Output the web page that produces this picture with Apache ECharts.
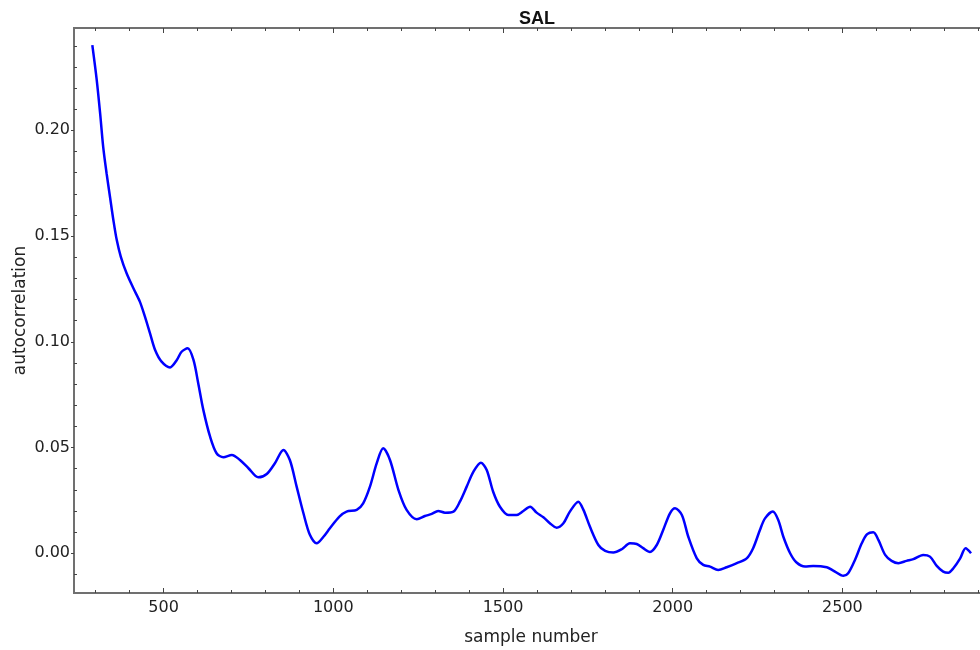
<!DOCTYPE html>
<html>
<head>
<meta charset="utf-8">
<script src="https://cdn.jsdelivr.net/npm/echarts@6/dist/echarts.min.js"></script>
<style>html,body{margin:0;padding:0;background:#fff;}#chart{width:980px;height:650px;}</style>
</head>
<body>
<div id="chart"></div>
<script>
const chartTitle = "SAL";
const xName = "sample number";
const yName = "autocorrelation";
const sampleNumbers = [290,303,313,322,332,342,352,362,374,391,411,430,445,460,475,494,519,539,553,571,588,602,617,637,656,676,701,725,750,779,804,828,853,872,892,912,931,951,971,990,1018,1039,1069,1088,1108,1128,1147,1167,1192,1216,1246,1270,1290,1309,1329,1354,1373,1393,1413,1435,1452,1471,1491,1516,1540,1560,1580,1599,1619,1638,1658,1678,1697,1722,1737,1756,1781,1801,1825,1850,1874,1894,1913,1933,1953,1972,1992,2007,2027,2046,2071,2090,2110,2134,2159,2189,2218,2237,2257,2272,2295,2311,2326,2346,2365,2390,2414,2454,2473,2503,2517,2537,2557,2573,2591,2606,2626,2645,2665,2689,2709,2738,2758,2778,2797,2812,2827,2847,2863,2879];
const autocorr = [0.2403,0.2238,0.2080,0.1922,0.1797,0.1686,0.1576,0.1481,0.1402,0.1324,0.1253,0.1190,0.1119,0.1040,0.0961,0.0906,0.0879,0.0914,0.0953,0.0969,0.0914,0.0804,0.0678,0.0551,0.0473,0.0454,0.0465,0.0441,0.0402,0.0359,0.0375,0.0426,0.0488,0.0441,0.0315,0.0189,0.0087,0.0047,0.0078,0.0118,0.0173,0.0197,0.0205,0.0236,0.0315,0.0426,0.0496,0.0441,0.0299,0.0205,0.0161,0.0176,0.0186,0.0200,0.0192,0.0197,0.0244,0.0315,0.0386,0.0428,0.0394,0.0291,0.0220,0.0181,0.0181,0.0200,0.0220,0.0192,0.0170,0.0142,0.0121,0.0142,0.0197,0.0244,0.0205,0.0126,0.0039,0.0011,0.0003,0.0019,0.0047,0.0044,0.0024,0.0006,0.0039,0.0110,0.0189,0.0213,0.0181,0.0078,-0.0024,-0.0055,-0.0063,-0.0079,-0.0066,-0.0047,-0.0024,0.0024,0.0110,0.0165,0.0197,0.0157,0.0078,0.0000,-0.0044,-0.0063,-0.0060,-0.0066,-0.0082,-0.0107,-0.0095,-0.0032,0.0047,0.0090,0.0099,0.0063,-0.0008,-0.0036,-0.0047,-0.0036,-0.0028,-0.0008,-0.0016,-0.0060,-0.0087,-0.0092,-0.0071,-0.0024,0.0024,0.0000];
const xMajorTicks = [500,1000,1500,2000,2500];
const xMinorTicks = [300,400,600,700,800,900,1100,1200,1300,1400,1600,1700,1800,1900,2100,2200,2300,2400,2600,2700,2800,2900];
const yMajorTicks = [0,0.05,0.10,0.15,0.20];
const yMinorTicks = [-0.01,0.01,0.02,0.03,0.04,0.06,0.07,0.08,0.09,0.11,0.12,0.13,0.14,0.16,0.17,0.18,0.19,0.21,0.22,0.23,0.24];

const X_MIN = 236, X_MAX = 2929, Y_MIN = -0.0188, Y_MAX = 0.2484;
const axisColor = '#707070';
const labelFont = 'DejaVu Sans';

function xAxisDef(pos, ticks, len, showLabel) {
  return {
    type: 'value', position: pos, min: X_MIN, max: X_MAX,
    axisLine: { show: true, onZero: false, lineStyle: { color: axisColor, width: 2 } },
    axisTick: { show: true, inside: true, length: len, customValues: ticks, lineStyle: { color: '#444', width: 1 } },
    axisLabel: showLabel ? { show: true, customValues: ticks, fontFamily: labelFont, fontSize: 16, color: '#222', margin: 7,
      formatter: v => String(Math.round(v)) } : { show: false },
    splitLine: { show: false }
  };
}
function yAxisDef(ticks, len, inside, showLabel) {
  return {
    type: 'value', position: 'left', min: Y_MIN, max: Y_MAX,
    axisLine: { show: true, onZero: false, lineStyle: { color: axisColor, width: 2 } },
    axisTick: { show: true, inside: inside, length: len, customValues: ticks, lineStyle: { color: '#444', width: 1 } },
    axisLabel: showLabel ? { show: true, customValues: ticks, fontFamily: labelFont, fontSize: 16, color: '#222', margin: 4,
      formatter: v => v.toFixed(2) } : { show: false },
    splitLine: { show: false }
  };
}

const xa0 = xAxisDef('bottom', xMajorTicks, 5, true);
xa0.name = xName; xa0.nameLocation = 'middle'; xa0.nameGap = 36; xa0.nameMoveOverlap = false;
xa0.nameTextStyle = { fontFamily: labelFont, fontSize: 17, color: '#222' };
const ya0 = yAxisDef(yMajorTicks, 3, false, true);
ya0.name = yName; ya0.nameLocation = 'middle'; ya0.nameGap = 45; ya0.nameMoveOverlap = false;
ya0.nameTextStyle = { fontFamily: labelFont, fontSize: 17, color: '#222' };

const chart = echarts.init(document.getElementById('chart'), null, { renderer: 'canvas' });
chart.setOption({
  animation: false,
  backgroundColor: '#fff',
  title: { text: chartTitle, left: 514, top: 5, textStyle: { fontFamily: 'Liberation Sans', fontWeight: 'bold', fontSize: 18, color: '#111' } },
  grid: { left: 74, right: -8, top: 28, bottom: 57, containLabel: false, outerBoundsMode: 'none' },
  xAxis: [
    xa0,
    xAxisDef('bottom', xMinorTicks, 3, false),
    xAxisDef('top', xMajorTicks, 5, false),
    xAxisDef('top', xMinorTicks, 3, false)
  ],
  yAxis: [
    ya0,
    yAxisDef(yMinorTicks, 3, true, false)
  ],
  series: [{
    type: 'line',
    xAxisIndex: 0, yAxisIndex: 0,
    data: sampleNumbers.map((s, i) => [s, autocorr[i]]),
    showSymbol: false,
    smooth: 0.3,
    lineStyle: { color: '#0000ff', width: 2.5 },
    itemStyle: { color: '#0000ff' }
  }]
});
</script>
</body>
</html>
